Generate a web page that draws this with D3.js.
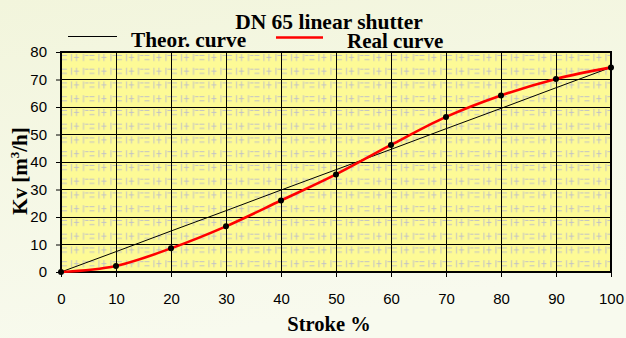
<!DOCTYPE html>
<html><head><meta charset="utf-8">
<script src="https://cdn.jsdelivr.net/npm/d3@7"></script>
<style>body{margin:0;background:#f5f8e4;overflow:hidden}</style>
</head><body><svg id="c" width="626" height="338"></svg>
<script>
const strokePct = [0,10,20,30,40,50,60,70,80,90,100];
const theorKv   = [0,7.4,14.9,22.3,29.8,37.2,44.6,52.1,59.5,67.0,74.4];
const realKv    = [0,2.2,8.6,16.6,26.0,35.5,46.2,56.4,64.2,70.2,74.4];
const xTicks = [0,10,20,30,40,50,60,70,80,90,100];
const yTicks = [0,10,20,30,40,50,60,70,80];
const titleText = "DN 65 linear shutter";
const legendNames = ["Theor. curve","Real curve"];
const xLabel = "Stroke %";

const svg = d3.select("#c");
const W=626,H=338;
const m={l:61,r:15,t:52,b:66};
const pw=W-m.l-m.r, ph=H-m.t-m.b;
const x=d3.scaleLinear().domain([0,100]).range([m.l,m.l+pw]);
const y=d3.scaleLinear().domain([0,80]).range([m.t+ph,m.t]);
const serif="'Liberation Serif','Times New Roman',serif";

const defs=svg.append("defs");
const bg=defs.append("linearGradient").attr("id","bg").attr("x1",0).attr("y1",0).attr("x2",0.3).attr("y2",1);
bg.append("stop").attr("offset","0%").attr("stop-color","#f2f5dc");
bg.append("stop").attr("offset","100%").attr("stop-color","#f8faee");
svg.append("rect").attr("width",W).attr("height",H).attr("fill","url(#bg)");

// texture pattern
const pat=defs.append("pattern").attr("id","tex").attr("patternUnits","userSpaceOnUse")
  .attr("x",m.l).attr("y",m.t).attr("width",27.5).attr("height",13.75);
pat.append("rect").attr("width",27.5).attr("height",13.75).attr("fill","#fdfa96");
pat.append("path").attr("stroke","#c2c2c6").attr("stroke-width",1).attr("fill","none")
  .attr("d","M1,3.5H6M1,7.5H6M10.5,2V9M13,5.5H18M15.5,2V9M22.5,2V9M24,3.5H27.5");

// title and legend
svg.append("text").attr("x",329).attr("y",28.5).attr("text-anchor","middle")
  .attr("font-family",serif).attr("font-weight","bold").attr("font-size",21.5).text(titleText);
svg.append("line").attr("x1",68).attr("x2",117).attr("y1",36.5).attr("y2",36.5).attr("stroke","#000").attr("stroke-width",1.2);
svg.append("line").attr("x1",276).attr("x2",323).attr("y1",37.5).attr("y2",37.5).attr("stroke","#ff0000").attr("stroke-width",2.5);
svg.append("text").attr("x",131).attr("y",47).attr("font-family",serif).attr("font-weight","bold").attr("font-size",21.3).text(legendNames[0]);
svg.append("text").attr("x",347).attr("y",47.5).attr("font-family",serif).attr("font-weight","bold").attr("font-size",21).text(legendNames[1]);

// plot area
svg.append("rect").attr("x",m.l).attr("y",m.t).attr("width",pw).attr("height",ph).attr("fill","url(#tex)");
const grid=svg.append("g").attr("stroke","#000").attr("stroke-width",1).attr("shape-rendering","crispEdges");
grid.selectAll(".vx").data(xTicks.slice(1,-1)).join("line")
  .attr("x1",d=>x(d)).attr("x2",d=>x(d)).attr("y1",m.t).attr("y2",m.t+ph);
grid.selectAll(".hy").data(yTicks.slice(1,-1)).join("line")
  .attr("y1",d=>y(d)).attr("y2",d=>y(d)).attr("x1",m.l).attr("x2",m.l+pw);

// axes
const ax=svg.append("g").attr("transform",`translate(0,${m.t+ph})`)
  .call(d3.axisBottom(x).tickValues(xTicks).tickSize(5).tickPadding(16));
const ay=svg.append("g").attr("transform",`translate(${m.l},0)`)
  .call(d3.axisLeft(y).tickValues(yTicks).tickSize(5).tickPadding(9));
[ax,ay].forEach(a=>{
  a.select(".domain").remove();
  a.selectAll("line").attr("stroke","#000");
  a.selectAll("text").attr("font-family","'Liberation Sans',Arial,sans-serif").attr("font-size",15).attr("fill","#000");
});
svg.append("rect").attr("x",m.l).attr("y",m.t).attr("width",pw).attr("height",ph)
  .attr("fill","none").attr("stroke","#000").attr("stroke-width",2);

// lines
const theorLine=d3.line().x((d,i)=>x(strokePct[i])).y(d=>y(d));
svg.append("path").datum(theorKv).attr("d",theorLine).attr("fill","none").attr("stroke","#000").attr("stroke-width",1);
const realLine=d3.line().x((d,i)=>x(strokePct[i])).y(d=>y(d)).curve(d3.curveCatmullRom.alpha(0));
svg.append("path").datum(realKv).attr("d",realLine).attr("fill","none").attr("stroke","#ff0000").attr("stroke-width",2.6);
svg.selectAll(".dot").data(realKv).join("circle")
  .attr("cx",(d,i)=>x(strokePct[i])).attr("cy",d=>y(d)).attr("r",3).attr("fill","#000");

// axis titles
svg.append("text").attr("x",329).attr("y",331).attr("text-anchor","middle")
  .attr("font-family",serif).attr("font-weight","bold").attr("font-size",20.5).text(xLabel);
const yl=svg.append("text").attr("transform","translate(27,171) rotate(-90)").attr("text-anchor","middle")
  .attr("font-family",serif).attr("font-weight","bold").attr("font-size",21);
yl.append("tspan").text("Kv  [m");
yl.append("tspan").attr("font-size",13).attr("dy",-8).text("3");
yl.append("tspan").attr("dy",8).text("/h]");
</script></body></html>
